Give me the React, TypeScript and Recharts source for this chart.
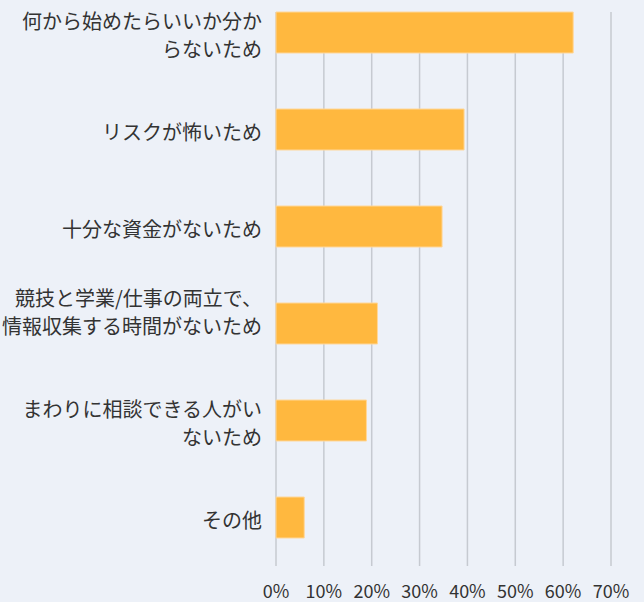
import { BarChart, Bar, XAxis, YAxis, CartesianGrid } from 'recharts';

// 項目（改行位置は元の図に合わせる。4番目は末尾に空行あり）
const REASONS = [
  '何から始めたらいいか分か\nらないため',
  'リスクが怖いため',
  '十分な資金がないため',
  '競技と学業/仕事の両立で、\n情報収集する時間がないため\n',
  'まわりに相談できる人がい\nないため',
  'その他',
];
const SHARES = [62.1, 39.3, 34.7, 21.2, 18.9, 5.9];
const X_TICKS = [0, 10, 20, 30, 40, 50, 60, 70];

const FONT = '"Noto Sans CJK JP", "Noto Sans", sans-serif';
const TEXT = '#333333';

const data = REASONS.map((reason, i) => ({ reason, share: SHARES[i] }));

// 左側のラベル（複数行、1行ずつ別の text にする）
const ReasonTick = (props: any) => {
  const { x, y, payload } = props;
  const lines: string[] = String(payload.value).split('\n');
  const lineHeight = 28;
  const startY = y + 2 - ((lines.length - 1) * lineHeight) / 2;
  return (
    <g>
      {lines.map((line, i) =>
        line ? (
          <text
            key={i}
            x={x}
            y={startY + i * lineHeight}
            textAnchor="end"
            fill={TEXT}
            fontSize={20}
            fontFamily={FONT}
            dominantBaseline="central"
          >
            {line}
          </text>
        ) : null
      )}
    </g>
  );
};

export default function App() {
  return (
    <div
      style={{
        position: 'absolute',
        left: 0,
        top: 0,
        width: 644,
        height: 602,
        background: '#edf1f8',
      }}
    >
      <BarChart
        width={644}
        height={602}
        data={data}
        layout="vertical"
        margin={{ top: 12, right: 33, bottom: 0, left: 0 }}
      >
        <CartesianGrid horizontal={false} stroke="#c6cad1" strokeWidth={1.5} />
        <XAxis
          type="number"
          domain={[0, 70]}
          ticks={X_TICKS}
          tickFormatter={(v: number) => `${v}%`}
          axisLine={false}
          tickLine={false}
          tickMargin={13}
          height={36}
          tick={{ fill: TEXT, fontSize: 18, fontFamily: FONT }}
        />
        <YAxis
          type="category"
          dataKey="reason"
          width={276}
          axisLine={false}
          tickLine={false}
          tickMargin={8}
          padding={{ top: -28, bottom: 0 }}
          tick={<ReasonTick />}
        />
        <Bar
          dataKey="share"
          fill="#ffb83f"
          stroke="#ffd79a"
          strokeWidth={1}
          barSize={41}
          isAnimationActive={false}
        />
      </BarChart>
    </div>
  );
}
